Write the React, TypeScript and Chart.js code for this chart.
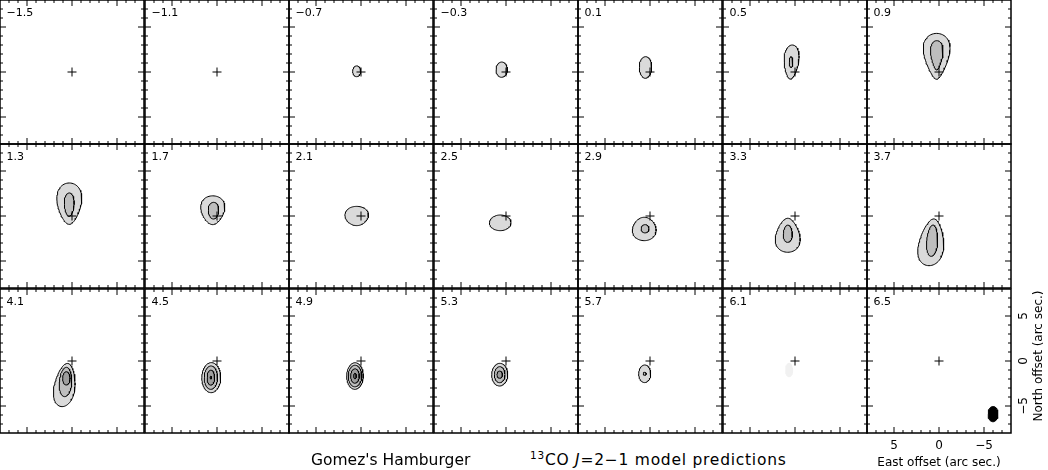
import React, { useEffect, useRef } from 'react';
import { Chart, registerables } from 'chart.js';

Chart.register(...registerables);

// Channel velocities (km/s), shown in each panel's corner
const velocityLabels = [
  '−1.5', '−1.1', '−0.7', '−0.3', '0.1', '0.5', '0.9',
  '1.3', '1.7', '2.1', '2.5', '2.9', '3.3', '3.7',
  '4.1', '4.5', '4.9', '5.3', '5.7', '6.1', '6.5',
];

// Contours: [panel, level, eastOffset, northOffset, halfWidth, halfHeight, taper, shear]
const contourTable: number[][] = [
  [2, 1, 0.48, 0.08, 0.45, 0.6, 0, 0],
  [3, 1, 0.48, 0.26, 0.63, 0.85, 0, 0],
  [4, 1, 0.5, 0.5, 0.69, 1.2, 0.05, 0],
  [5, 1, 0.4, 1.1, 0.8, 1.9, 0.25, -0.05],
  [5, 2, 0.44, 1.1, 0.2, 0.6, 0, 0],
  [6, 1, 0.26, 1.74, 1.37, 2.55, 0.45, 0],
  [6, 2, 0.25, 1.85, 0.65, 1.63, 0.4, 0],
  [7, 1, 0.3, 1.37, 1.33, 2.3, 0.3, 0],
  [7, 2, 0.31, 1.26, 0.54, 1.3, 0.15, 0],
  [8, 1, 0.47, 0.64, 1.3, 1.6, 0.25, 0],
  [8, 2, 0.39, 0.59, 0.58, 0.93, 0.1, 0],
  [9, 1, 0.48, 0.0, 1.3, 1.07, 0.1, 0],
  [10, 1, 0.64, -0.76, 1.2, 0.87, 0, 0],
  [11, 1, 0.64, -1.44, 1.31, 1.3, -0.12, 0],
  [11, 2, 0.55, -1.42, 0.44, 0.46, 0, 0],
  [12, 1, 0.81, -2.14, 1.33, 1.89, -0.3, 0],
  [12, 2, 0.8, -1.97, 0.5, 0.96, -0.1, 0],
  [13, 1, 0.85, -2.92, 1.37, 2.6, -0.3, -0.1],
  [13, 2, 0.76, -2.74, 0.61, 1.74, -0.1, -0.05],
  [14, 1, 0.81, -2.67, 1.15, 2.4, -0.2, -0.12],
  [14, 2, 0.72, -2.33, 0.69, 1.63, -0.05, -0.05],
  [14, 3, 0.63, -1.93, 0.41, 0.74, 0, 0],
  [15, 1, 0.64, -1.85, 1.05, 1.67, 0, 0],
  [15, 2, 0.68, -1.85, 0.74, 1.3, 0, 0],
  [15, 3, 0.68, -1.85, 0.42, 0.83, 0, 0],
  [15, 4, 0.68, -1.85, 0.1, 0.15, 0, 0],
  [16, 1, 0.67, -1.67, 0.92, 1.48, 0, 0],
  [16, 2, 0.67, -1.67, 0.74, 1.2, 0, 0],
  [16, 3, 0.67, -1.67, 0.48, 0.8, 0, 0],
  [16, 4, 0.67, -1.67, 0.15, 0.3, 0, 0],
  [17, 1, 0.7, -1.52, 0.89, 1.26, 0, 0],
  [17, 2, 0.7, -1.52, 0.59, 0.89, 0, 0],
  [17, 3, 0.7, -1.52, 0.31, 0.4, 0, 0],
  [18, 1, 0.59, -1.42, 0.67, 0.98, 0, 0],
  [18, 2, 0.59, -1.42, 0.17, 0.17, 0, 0],
  [19, 0, 0.65, -1.0, 0.45, 0.8, 0, 0],
];

const levelFills = ['#f1f1f1', '#dadada', '#bebebe', '#9e9e9e', '#7c7c7c'];

// Beam: [eastOffset, northOffset, halfWidth, halfHeight], drawn in the last panel
const beam = [-6, -5.9, 0.55, 0.85];

const axisMin = -8;
const axisMax = 8;
const minorTicks = [-7, -6, -4, -3, -2, -1, 1, 2, 3, 4, 6, 7];
const majorTicks = [-5, 0, 5];
const axisTickValues = [5, 0, -5];
const axisTickLabels = ['5', '0', '−5'];
const xAxisTitle = 'East offset (arc sec.)';
const yAxisTitle = 'North offset (arc sec.)';
const sourceName = "Gomez's Hamburger";

const COLS = 7;
const COL_W = 144.5;
const ROW_H = 144.3;
const AREA = 144;
const PAD = 2;
const AXIS_SPACE = 37;

function outline(cx: number, cy: number, rx: number, ry: number, taper: number, shear: number) {
  const pts: { x: number; y: number }[] = [];
  const n = 72;
  for (let i = 0; i <= n; i++) {
    const t = (i / n) * 2 * Math.PI;
    const s = Math.sin(t);
    const c = Math.cos(t);
    pts.push({ x: cx + rx * c * (1 + taper * s) + shear * ry * s, y: cy + ry * s });
  }
  return pts;
}

const framePlugin = {
  id: 'frame',
  afterDatasetsDraw(chart: any, _args: any, opts: any) {
    const { ctx, chartArea: a, scales } = chart;
    const xs = scales.x;
    const ys = scales.y;
    ctx.save();
    ctx.strokeStyle = '#000';
    ctx.lineWidth = 1;
    const tick = (v: number, len: number) => {
      const px = xs.getPixelForValue(v);
      const py = ys.getPixelForValue(v);
      ctx.beginPath();
      ctx.moveTo(px, a.bottom);
      ctx.lineTo(px, a.bottom - len);
      ctx.moveTo(px, a.top);
      ctx.lineTo(px, a.top + len);
      ctx.moveTo(a.left, py);
      ctx.lineTo(a.left + len, py);
      ctx.moveTo(a.right, py);
      ctx.lineTo(a.right - len, py);
      ctx.stroke();
    };
    minorTicks.forEach((v) => tick(v, 3));
    majorTicks.forEach((v) => tick(v, 6));
    ctx.lineWidth = 1.5;
    ctx.strokeRect(a.left, a.top, a.right - a.left, a.bottom - a.top);

    ctx.fillStyle = '#000';
    ctx.font = '11px "DejaVu Sans"';
    ctx.textBaseline = 'alphabetic';
    ctx.textAlign = 'left';
    ctx.fillText(opts.label, a.left + 6.5, a.top + 16);

    if (opts.axes) {
      ctx.font = '12px "DejaVu Sans"';
      ctx.textAlign = 'center';
      ctx.textBaseline = 'middle';
      axisTickValues.forEach((v, i) => {
        ctx.fillText(axisTickLabels[i], xs.getPixelForValue(v), a.bottom + 12.7);
      });
      ctx.fillText(xAxisTitle, (a.left + a.right) / 2, a.bottom + 29.5);
      axisTickValues.forEach((v, i) => {
        ctx.save();
        ctx.translate(a.right + 13, ys.getPixelForValue(v));
        ctx.rotate(-Math.PI / 2);
        ctx.fillText(axisTickLabels[i], 0, 0);
        ctx.restore();
      });
      ctx.save();
      ctx.translate(a.right + 28, (a.top + a.bottom) / 2 - 5);
      ctx.rotate(-Math.PI / 2);
      ctx.fillText(yAxisTitle, 0, 0);
      ctx.restore();
    }
    ctx.restore();
  },
};

function Panel({ index }: { index: number }) {
  const ref = useRef<HTMLCanvasElement>(null);
  const col = index % COLS;
  const row = Math.floor(index / COLS);
  const isLast = index === velocityLabels.length - 1;
  const left0 = Math.round(col * COL_W);
  const top0 = Math.round(row * ROW_H);
  const w = PAD + AREA + (isLast ? AXIS_SPACE : PAD);
  const h = PAD + AREA + (isLast ? AXIS_SPACE : PAD);

  useEffect(() => {
    if (!ref.current) return;
    const datasets: any[] = [];
    contourTable
      .filter((c) => c[0] === index)
      .forEach((c) => {
        const level = c[1];
        datasets.push({
          data: outline(c[2], c[3], c[4], c[5], c[6], c[7]),
          showLine: true,
          fill: 'shape',
          backgroundColor: levelFills[level],
          borderColor: level === 0 ? 'rgba(0,0,0,0)' : '#000',
          borderWidth: level === 0 ? 0 : 1,
          pointRadius: 0,
          tension: 0,
          order: 10 - level,
        });
      });
    if (isLast) {
      datasets.push({
        data: outline(beam[0], beam[1], beam[2], beam[3], 0, 0),
        showLine: true,
        fill: 'shape',
        backgroundColor: '#000',
        borderColor: '#000',
        borderWidth: 1,
        pointRadius: 0,
        order: 5,
      });
    }
    datasets.push({
      data: [{ x: 0, y: 0 }],
      showLine: false,
      pointStyle: 'cross',
      pointRadius: 4.5,
      pointBorderWidth: 1,
      borderColor: '#000',
      backgroundColor: '#000',
      order: -10,
    });

    const chart = new Chart(ref.current, {
      type: 'line',
      data: { datasets },
      options: {
        animation: false,
        responsive: false,
        maintainAspectRatio: false,
        devicePixelRatio: 1,
        events: [],
        layout: {
          autoPadding: false,
          padding: { left: PAD, top: PAD, right: isLast ? AXIS_SPACE : PAD, bottom: isLast ? AXIS_SPACE : PAD },
        },
        scales: {
          x: { type: 'linear', min: axisMin, max: axisMax, reverse: true, display: false },
          y: { type: 'linear', min: axisMin, max: axisMax, display: false },
        },
        plugins: {
          legend: { display: false },
          tooltip: { enabled: false },
          frame: { label: velocityLabels[index], axes: isLast },
        } as any,
      },
      plugins: [framePlugin],
    });
    return () => chart.destroy();
  }, [index]);

  return (
    <canvas
      ref={ref}
      width={w}
      height={h}
      style={{ position: 'absolute', left: left0 - PAD, top: top0 - PAD, width: w, height: h }}
    />
  );
}

export default function App() {
  const titleStyle: React.CSSProperties = {
    position: 'absolute',
    top: 451,
    font: '15.5px "DejaVu Sans"',
    lineHeight: '18px',
    whiteSpace: 'nowrap',
    color: '#000',
  };
  return (
    <div
      style={{
        position: 'absolute',
        left: 0,
        top: 0,
        width: 1048,
        height: 470,
        background: '#fff',
        overflow: 'hidden',
      }}
    >
      {velocityLabels.map((_, i) => (
        <Panel key={i} index={i} />
      ))}
      <div style={{ ...titleStyle, left: 311 }}>{sourceName}</div>
      <div style={{ ...titleStyle, left: 530, letterSpacing: '0.75px' }}>
        <span style={{ fontSize: '10.5px', position: 'relative', top: '-6px' }}>13</span>
        CO <i>J</i>=2−1 model predictions
      </div>
    </div>
  );
}
